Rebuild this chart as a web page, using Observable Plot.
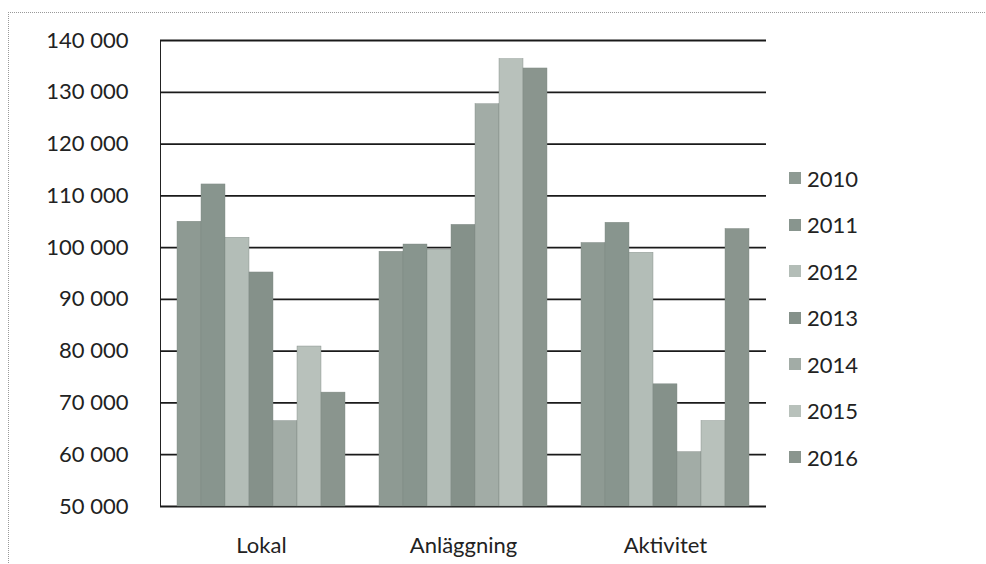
<!DOCTYPE html>
<html>
<head>
<meta charset="utf-8">
<script src="https://cdn.jsdelivr.net/npm/d3@7"></script>
<script src="https://cdn.jsdelivr.net/npm/@observablehq/plot@0.6"></script>
<style>
  body { margin: 0; background: #fff; }
  #wrap { position: relative; width: 986px; height: 564px; overflow: hidden; font-family: Lato, "Open Sans", sans-serif; }
  #border { position: absolute; left: 8px; top: 12px; width: 1000px; height: 600px; border-left: 1px dotted #999; border-top: 1px dotted #999; }
  #legend { position: absolute; left: 789px; top: 155px; }
  .row { height: 46.5px; display: flex; align-items: center; font-size: 22px; color: #222; }
  .sw { width: 12px; height: 12px; margin-right: 6px; }
</style>
</head>
<body>
<div id="wrap"><div id="border"></div></div>
<script>
const categories = ["Lokal", "Anläggning", "Aktivitet"];
const years = ["2010", "2011", "2012", "2013", "2014", "2015", "2016"];
const lokal      = [105000, 112200, 101900, 95200, 66500, 80900, 72000];
const anlaggning = [99200, 100600, 99600, 104400, 127700, 136400, 134600];
const aktivitet  = [100900, 104800, 99000, 73600, 60500, 66500, 103600];
const yTicks = [50000, 60000, 70000, 80000, 90000, 100000, 110000, 120000, 130000, 140000];
const colors = ["#8e9a93", "#88958e", "#b3bdb7", "#85918a", "#a2aca6", "#b8c1bb", "#8a958e"];

const series = {Lokal: lokal, "Anläggning": anlaggning, Aktivitet: aktivitet};
const data = categories.flatMap(c => years.map((y, i) => ({category: c, year: y, value: series[c][i]})));
const fmt = d => d3.format(",")(d).replace(/,/g, " ");

const chart = Plot.plot({
  width: 986,
  height: 564,
  marginLeft: 160,
  marginRight: 220,
  marginTop: 40,
  marginBottom: 58,
  style: {fontFamily: "Lato, 'Open Sans', sans-serif", fontSize: "22px", color: "#222", background: "transparent"},
  fx: {domain: categories, padding: 0, label: null, axis: "bottom", tickSize: 0, tickPadding: 31},
  x: {domain: years, axis: null, paddingInner: 0, paddingOuter: 0.7},
  y: {domain: [yTicks[0], yTicks[yTicks.length - 1]], ticks: yTicks, tickFormat: fmt, tickSize: 0, tickPadding: 32, label: null, line: true},
  color: {domain: years, range: colors},
  marks: [
    Plot.ruleY(yTicks, {stroke: "#1a1a1a", strokeWidth: 1.8}),
    Plot.barY(data, {fx: "category", x: "year", y1: yTicks[0], y2: "value", fill: "year", stroke: "#7d8782", strokeWidth: 0.4})
  ]
});
const wrap = document.getElementById("wrap");
chart.style.position = "absolute";
chart.style.left = "0px";
chart.style.top = "0px";
wrap.appendChild(chart);

const legend = document.createElement("div");
legend.id = "legend";
years.forEach((y, i) => {
  const row = document.createElement("div");
  row.className = "row";
  const sw = document.createElement("div");
  sw.className = "sw";
  sw.style.background = colors[i];
  const t = document.createElement("span");
  t.textContent = y;
  row.appendChild(sw);
  row.appendChild(t);
  legend.appendChild(row);
});
wrap.appendChild(legend);
</script>
</body>
</html>
